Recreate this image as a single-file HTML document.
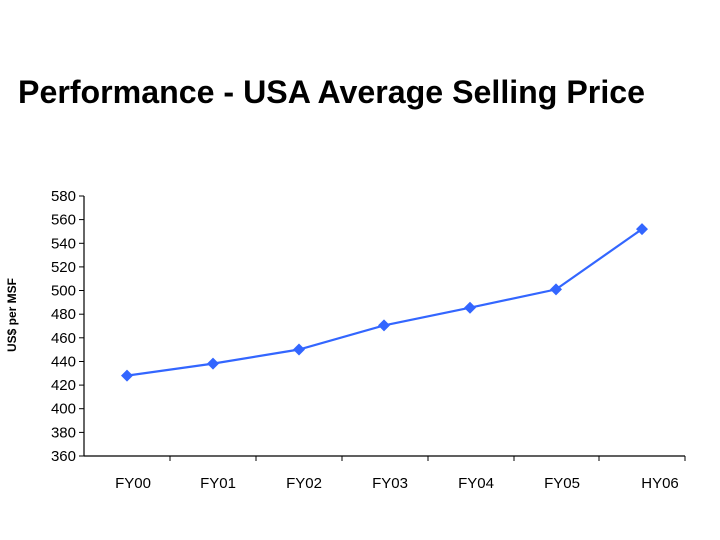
<!DOCTYPE html>
<html><head><style>body{margin:0;background:#fff}svg{display:block}</style></head><body>
<svg width="720" height="540" xmlns="http://www.w3.org/2000/svg" font-family="Liberation Sans, Arial, sans-serif">
<rect width="720" height="540" fill="#fff"/>
<text x="18" y="103" font-size="32" font-weight="bold" fill="#000" textLength="627" lengthAdjust="spacingAndGlyphs">Performance - USA Average Selling Price</text>
<text transform="translate(16,315) rotate(-90)" font-size="12" font-weight="bold" text-anchor="middle">US$ per MSF</text>
<g stroke="#000" stroke-width="1.2" fill="none">
<line x1="84" y1="196" x2="84" y2="456"/>
<line x1="84" y1="456" x2="685" y2="456"/>
</g>
<g stroke="#000" stroke-width="1">
<line x1="79" y1="196" x2="84" y2="196"/><line x1="79" y1="219.6" x2="84" y2="219.6"/><line x1="79" y1="243.3" x2="84" y2="243.3"/><line x1="79" y1="266.9" x2="84" y2="266.9"/><line x1="79" y1="290.5" x2="84" y2="290.5"/><line x1="79" y1="314.2" x2="84" y2="314.2"/><line x1="79" y1="337.8" x2="84" y2="337.8"/><line x1="79" y1="361.5" x2="84" y2="361.5"/><line x1="79" y1="385.1" x2="84" y2="385.1"/><line x1="79" y1="408.7" x2="84" y2="408.7"/><line x1="79" y1="432.4" x2="84" y2="432.4"/><line x1="79" y1="456" x2="84" y2="456"/>
<line x1="170" y1="456" x2="170" y2="461"/><line x1="256" y1="456" x2="256" y2="461"/><line x1="342" y1="456" x2="342" y2="461"/><line x1="428" y1="456" x2="428" y2="461"/><line x1="514" y1="456" x2="514" y2="461"/><line x1="599" y1="456" x2="599" y2="461"/><line x1="685" y1="456" x2="685" y2="461"/>
</g>
<g font-size="15" text-anchor="end" fill="#000">
<text x="76" y="201">580</text><text x="76" y="224.6">560</text><text x="76" y="248.3">540</text><text x="76" y="271.9">520</text><text x="76" y="295.5">500</text><text x="76" y="319.2">480</text><text x="76" y="342.8">460</text><text x="76" y="366.5">440</text><text x="76" y="390.1">420</text><text x="76" y="413.7">400</text><text x="76" y="437.4">380</text><text x="76" y="461">360</text>
</g>
<g font-size="15" text-anchor="middle" fill="#000">
<text x="133" y="488">FY00</text><text x="218" y="488">FY01</text><text x="304" y="488">FY02</text><text x="390" y="488">FY03</text><text x="476" y="488">FY04</text><text x="562" y="488">FY05</text><text x="660" y="488">HY06</text>
</g>
<polyline points="127,375.6 213,363.6 299,349.5 384,325.4 470,307.7 556,289.4 642,229.1" fill="none" stroke="#3366ff" stroke-width="2.2"/>
<g fill="#3366ff">
<path d="M127,369.6l6,6l-6,6l-6,-6z"/><path d="M213,357.6l6,6l-6,6l-6,-6z"/><path d="M299,343.5l6,6l-6,6l-6,-6z"/><path d="M384,319.4l6,6l-6,6l-6,-6z"/><path d="M470,301.7l6,6l-6,6l-6,-6z"/><path d="M556,283.4l6,6l-6,6l-6,-6z"/><path d="M642,223.1l6,6l-6,6l-6,-6z"/>
</g>
</svg>
</body></html>
